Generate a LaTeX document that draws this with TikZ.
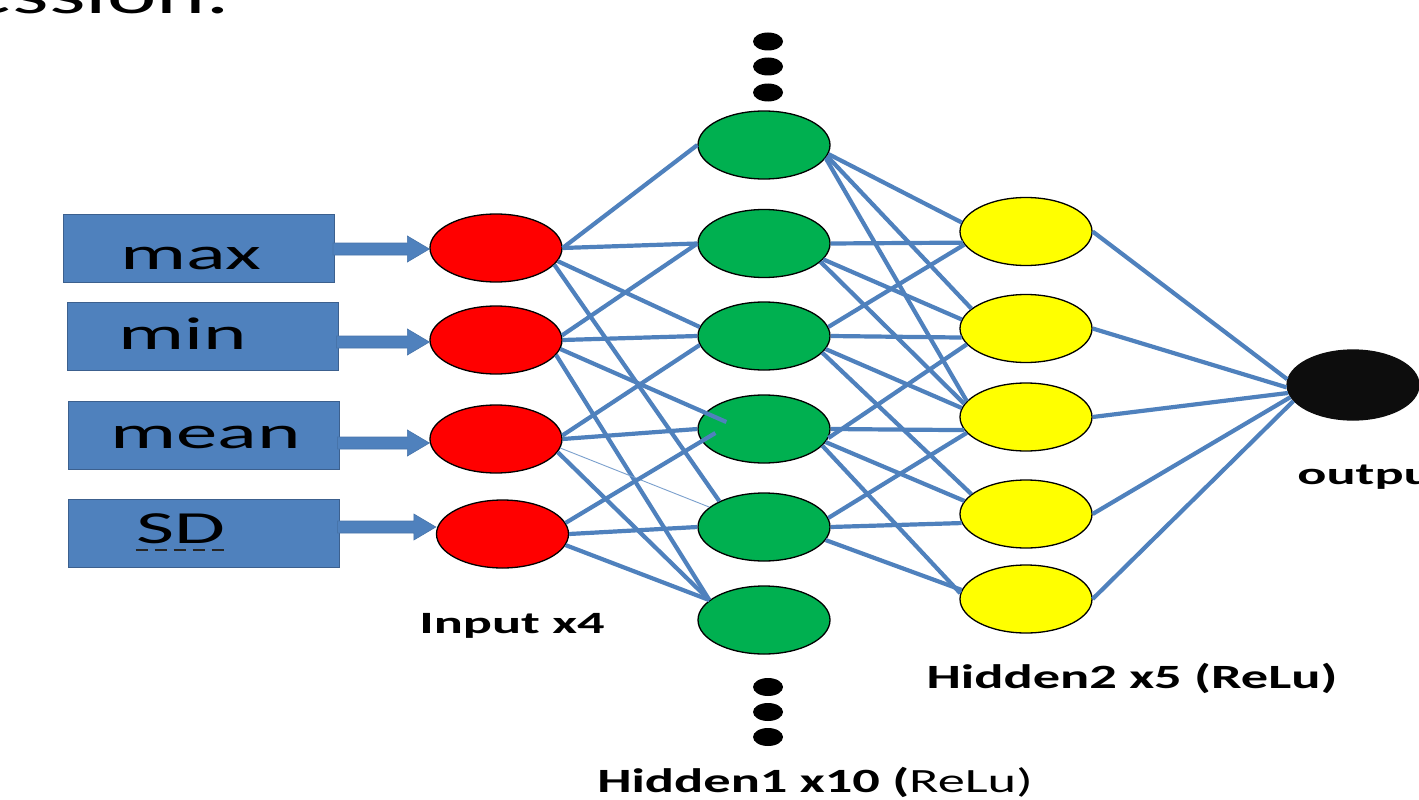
\documentclass[tikz,border=0pt]{standalone}
\usepackage{graphicx}
\usepackage{fontspec}
\setmainfont{Carlito}
\usetikzlibrary{shapes.geometric,calc}

\definecolor{boxblue}{RGB}{79,129,189}
\definecolor{boxedge}{RGB}{60,96,142}
\definecolor{linkblue}{RGB}{79,129,189}
\definecolor{inred}{RGB}{255,0,0}
\definecolor{hidgreen}{RGB}{0,176,80}
\definecolor{hidyellow}{RGB}{255,255,0}
\definecolor{outblack}{RGB}{13,13,13}

\tikzset{
  featbox/.style={rectangle, draw=boxedge, fill=boxblue, line width=1pt,
    minimum width=271pt, minimum height=68pt, inner sep=0pt},
  unit/.style={ellipse, draw=black, line width=1.3pt,
    minimum width=132pt, minimum height=68pt, inner sep=0pt},
  inunit/.style={unit, fill=inred},
  hidunit/.style={unit, fill=hidgreen},
  hidtwounit/.style={unit, fill=hidyellow},
  outunit/.style={unit, fill=outblack, draw=outblack, minimum height=70pt},
  link/.style={draw=linkblue, line width=4.2pt},
  thinlink/.style={draw=linkblue!75, line width=0.9pt},
  dotmark/.style={ellipse, fill=black, minimum width=30pt, minimum height=18pt, inner sep=0pt},
  boxlabel/.style={anchor=base, inner sep=0pt, xscale=1.8,
    font=\fontsize{46}{54}\selectfont},
  layerlabel/.style={anchor=base, inner sep=0pt, xscale=1.75,
    font=\fontsize{31}{38}\selectfont\bfseries},
  widelabel/.style={anchor=base, inner sep=0pt, xscale=1.6,
    font=\fontsize{34}{40}\selectfont\bfseries},
  featarrow/.style={fill=boxblue, draw=boxblue!90!black, line width=0.6pt},
  sdline/.style={draw=black!85, line width=2pt, dash pattern=on 12pt off 7pt},
}

% block arrow from the right side of a feature box to an input unit;
% #3 moves the arrow down (in px) from the unit's centre line
\newcommand\featarrow[3]{%
  \path[featarrow] let \p1=(#1.east), \p2=(#2.west) in
    (\x1-2pt,\y2-#3pt+6pt) -- (\x2-22pt,\y2-#3pt+6pt) -- (\x2-22pt,\y2-#3pt+13pt)
    -- (\x2,\y2-#3pt) -- (\x2-22pt,\y2-#3pt-13pt) -- (\x2-22pt,\y2-#3pt-6pt)
    -- (\x1-2pt,\y2-#3pt-6pt) -- cycle;}

\begin{document}
\begin{tikzpicture}[x=1pt,y=-1pt]
\useasboundingbox (0,0) rectangle (1419,800);
\clip (0,0) rectangle (1419,800);
\fill[white] (0,0) rectangle (1419,800);

% heading line running off the top of the slide
\node[anchor=base east, inner sep=0pt, xscale=1.7, font=\fontsize{55}{62}\selectfont]
  (heading) at (231,14) {ession:};

% feature boxes
\node[featbox] (maxbox)  at (199,248)   {};
\node[featbox] (minbox)  at (202.5,336.5) {};
\node[featbox] (meanbox) at (203.5,435.5) {};
\node[featbox] (sdbox)   at (203.5,533.5) {};
\node[boxlabel] (maxlbl)  at (191,269)   {max};
\node[boxlabel] (minlbl)  at (182.5,349) {min};
\node[boxlabel] (meanlbl) at (205.5,448) {mean};
\node[boxlabel] (sdlbl)   at (180.5,543) {SD};
\draw[sdline] ([yshift=-7pt]sdlbl.base west) -- ([yshift=-7pt,xshift=3pt]sdlbl.base east);

% input layer
\node[inunit] (in1) at (496,248) {};
\node[inunit] (in2) at (496,340) {};
\node[inunit] (in3) at (496,439) {};
\node[inunit] (in4) at (502.5,534) {};

\featarrow{maxbox}{in1}{1}
\featarrow{minbox}{in2}{2}
\featarrow{meanbox}{in3}{4}
\featarrow{sdbox}{in4}{-7}

% first hidden layer
\node[hidunit] (h1) at (764,145) {};
\node[hidunit] (h2) at (764,243.5) {};
\node[hidunit] (h3) at (764,336) {};
\node[hidunit] (h4) at (764,429) {};
\node[hidunit] (h5) at (764,527) {};
\node[hidunit] (h6) at (764,620) {};

% second hidden layer
\node[hidtwounit] (g1) at (1026,231.5) {};
\node[hidtwounit] (g2) at (1026,328.5) {};
\node[hidtwounit] (g3) at (1026,417) {};
\node[hidtwounit] (g4) at (1026,514) {};
\node[hidtwounit] (g5) at (1026,599) {};

% output unit
\node[outunit] (out) at (1353,385) {};

% ellipsis marks above and below the first hidden layer
\node[dotmark] (dt1) at (768,41.5) {};
\node[dotmark] (dt2) at (768,66.5) {};
\node[dotmark] (dt3) at (768,92.5) {};
\node[dotmark] (db1) at (768,687) {};
\node[dotmark] (db2) at (768,712) {};
\node[dotmark] (db3) at (768,737) {};

% input -> hidden 1
\draw[link] (in1.east) -- (h1.west);
\draw[link] (in1.east) -- (h2.west);
\draw[link] (in1.-12) -- (h3.172);
\draw[link] (in1.-16) -- (h5.150);
\draw[link] (in2.4) -- (h2.west);
\draw[link] (in2.east) -- (h3.west);
\draw[link] (in2.-8) -- ($(h4.west)+(29,-7)$);
\draw[link] (in2.-14) -- (h6.160);
\draw[link] (in3.3) -- (h3.188);
\draw[link] (in3.east) -- (h4.west);
\draw[thinlink] (in3.-8) -- (h5.160);
\draw[link] (in3.-12) -- (h6.160);
\draw[link] (in4.10) -- ($(h4.west)+(18,4)$);
\draw[link] (in4.east) -- (h5.west);
\draw[link] (in4.-10) -- (h6.160);

% hidden 1 -> hidden 2
\draw[link] (h1.-8) -- (g1.172);
\draw[link] (h1.-10) -- (g2.160);
\draw[link] (h1.-12) -- (g3.165);
\draw[link] (h2.east) -- (g1.190);
\draw[link] (h2.-15) -- (g2.172);
\draw[link] (h2.-18) -- (g3.168);
\draw[link] (h3.8) -- (g1.192);
\draw[link] (h3.east) -- (g2.188);
\draw[link] (h3.-12) -- (g3.172);
\draw[link] (h3.-16) -- (g4.160);
\draw[link] (h4.-8) -- (g2.195);
\draw[link] (h4.east) -- (g3.192);
\draw[link] (h4.-12) -- (g4.168);
\draw[link] (h4.-16) -- (g5.175);
\draw[link] (h5.8) -- (g3.195);
\draw[link] (h5.east) -- (g4.188);
\draw[link] (h5.-12) -- (g5.172);

% hidden 2 -> output
\draw[link] (g1.east) -- (out.175);
\draw[link] (g2.east) -- (out.182);
\draw[link] (g3.east) -- (out.187);
\draw[link] (g4.east) -- (out.191);
\draw[link] (g5.east) -- (out.195);

% layer captions
\node[layerlabel] (inlbl) at (512,633) {Input x4};
\node[widelabel] (h1lbl) at (815,792) {Hidden1 x10 ({\mdseries ReLu)}};
\node[widelabel] (h2lbl) at (1132,688) {Hidden2 x5 (ReLu)};
\node[layerlabel, anchor=base west] (outlbl) at (1297,484) {output};
\end{tikzpicture}
\end{document}
